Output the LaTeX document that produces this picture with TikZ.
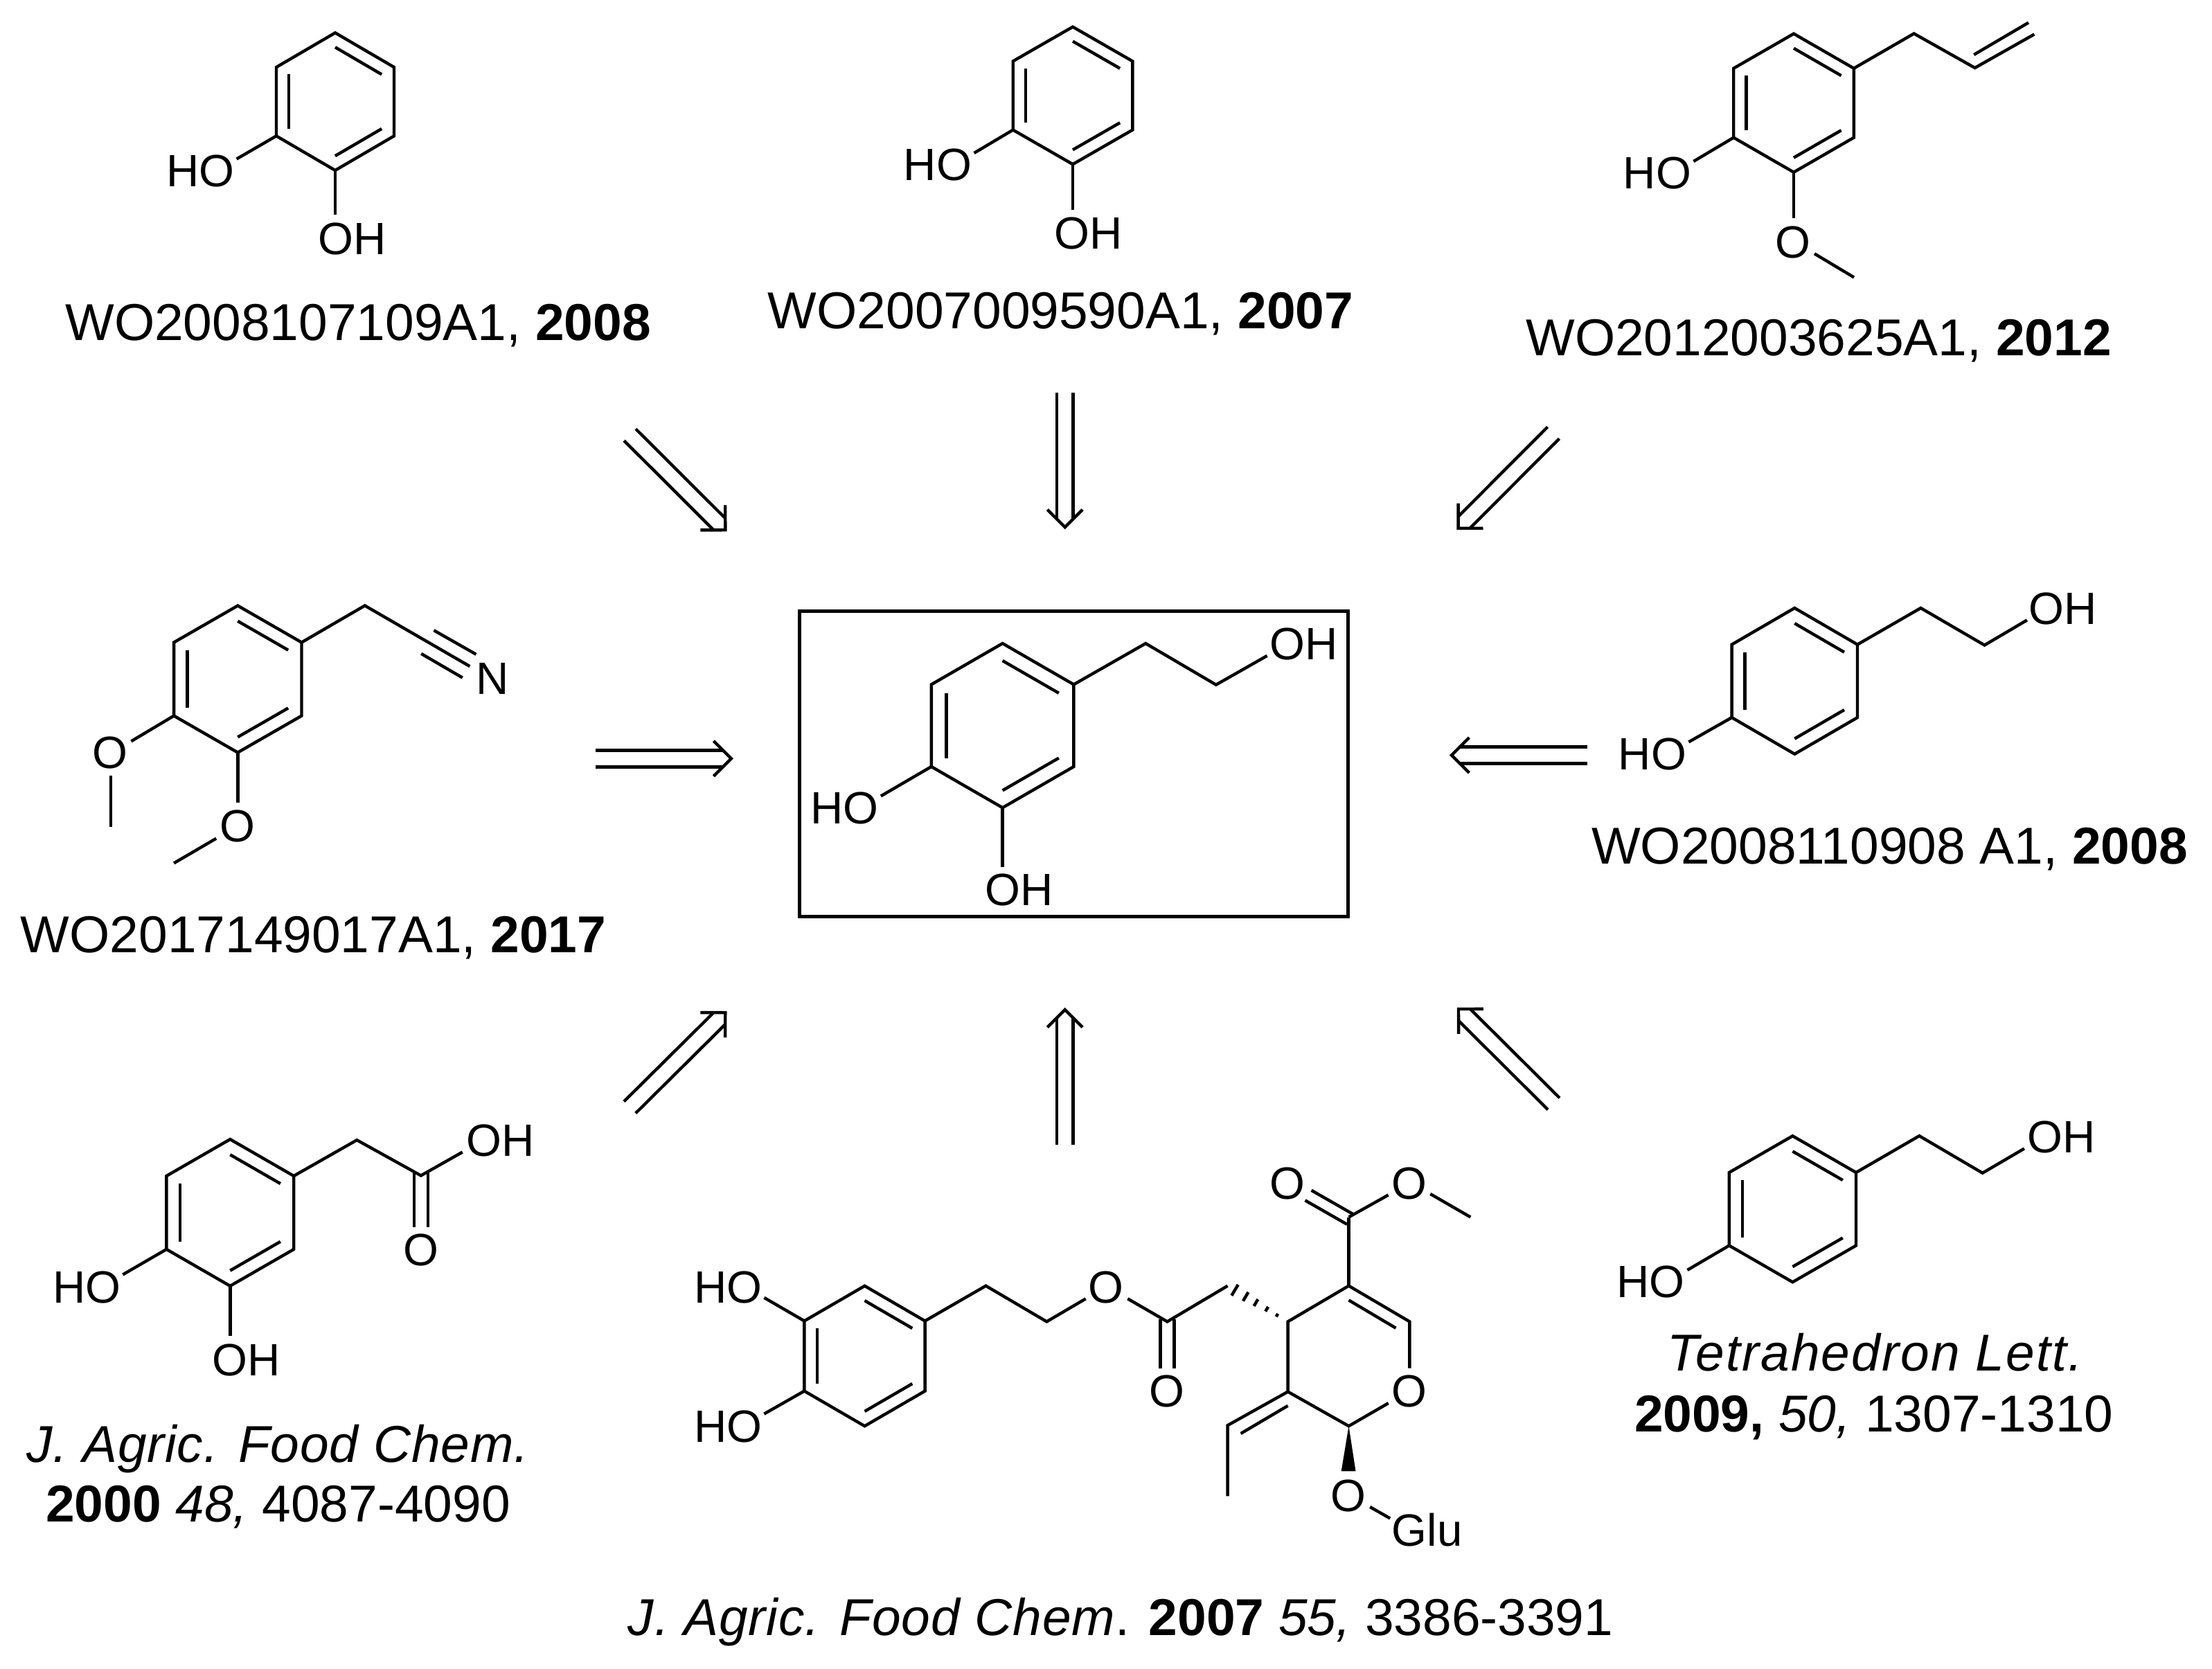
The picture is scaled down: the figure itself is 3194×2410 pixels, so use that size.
\documentclass[tikz,border=0pt]{standalone}
\usepackage{fontspec}
\setmainfont{Liberation Sans}
\usetikzlibrary{calc}
\usetikzlibrary{scopes}

\newcommand{\phring}[5]{
    \coordinate (#1c) at (#2,#3);
    \coordinate (#1t) at (#2,#3-#5);
    \coordinate (#1ur) at (#2+#4,#3-#5/2);
    \coordinate (#1lr) at (#2+#4,#3+#5/2);
    \coordinate (#1b) at (#2,#3+#5);
    \coordinate (#1ll) at (#2-#4,#3+#5/2);
    \coordinate (#1ul) at (#2-#4,#3-#5/2);
    \draw (#1t) -- (#1ur) -- (#1lr) -- (#1b) -- (#1ll) -- (#1ul) -- cycle;
    \draw ($(#1c)!.79!(#1t)$) -- ($(#1c)!.79!(#1ur)$);
    \draw ($(#1c)!.79!(#1lr)$) -- ($(#1c)!.79!(#1b)$);
    \draw ($(#1c)!.79!(#1ll)$) -- ($(#1c)!.79!(#1ul)$);
}
\newcommand{\dblarrow}[2]{
    \draw[shorten >=3.4pt] ($(#1)!3.4pt!90:(#2)$) -- ($(#2)!3.4pt!-90:(#1)$);
    \draw[shorten >=3.4pt] ($(#1)!3.4pt!-90:(#2)$) -- ($(#2)!3.4pt!90:(#1)$);
    \draw ($(#2)!10.2pt!45:(#1)$) -- (#2) -- ($(#2)!10.2pt!-45:(#1)$);
}
\newcommand{\jname}[2]{{\itshape\addfontfeature{LetterSpace=#1}#2}}
\tikzset{
    atom/.style={inner sep=0pt,font=\fontsize{18.6}{22}\selectfont},
    source/.style={inner sep=0pt,anchor=base,font=\fontsize{21.3}{25}\selectfont},
    target/.style={draw,line width=1.45pt},
}

\begin{document}
\begin{tikzpicture}[x=.01cm,y=-.01cm,line width=1.25pt]
    \useasboundingbox (0,0) rectangle (3194,2410);

    { [] % catechol, left
        \phring{ma}{484}{146.7}{85}{99.3}
        \node[atom] (maho) at (289.5,246.5) {HO};
        \node[atom] (maoh) at (508.5,345) {OH};
        \coordinate (mae) at (341.6,229.6);
        \coordinate (maf) at (484,309.7);
        \draw (mall) -- (mae);
        \draw (mab) -- (maf);
        \node[source] (mal) at (517,492) {WO2008107109A1, \textbf{2008}};
    }
    { [] % catechol, middle
        \phring{mb}{1549}{138}{86.3}{99.2}
        \node[atom] (mbho) at (1354,238) {HO};
        \node[atom] (mboh) at (1571.7,336.7) {OH};
        \coordinate (mbe) at (1406.6,221);
        \coordinate (mbf) at (1549,303);
        \draw (mbll) -- (mbe);
        \draw (mbb) -- (mbf);
        \node[source] (mbl) at (1531.5,474.5) {WO2007009590A1, \textbf{2007}};
    }
    { [] % eugenol
        \phring{mc}{2590}{148.7}{86.8}{100}
        \coordinate (mc1) at (2763.6,48.5);
        \coordinate (mc2) at (2851.6,98);
        \coordinate (mc3) at (2937.4,49.5);
        \coordinate (mc4) at (2850.2,79);
        \coordinate (mc5) at (2929,32.7);
        \draw (mcur) -- (mc1) -- (mc2) -- (mc3);
        \draw (mc4) -- (mc5);
        \node[atom] (mcho) at (2392.8,250) {HO};
        \node[atom] (mco) at (2589,350) {O};
        \coordinate (mce) at (2445.4,233);
        \coordinate (mcf) at (2590,315.3);
        \coordinate (mcg) at (2619.9,366.3);
        \coordinate (mch) at (2677,400.5);
        \draw (mcll) -- (mce);
        \draw (mcb) -- (mcf);
        \draw (mcg) -- (mch);
        \node[source] (mcl) at (2626,513.5) {WO2012003625A1, \textbf{2012}};
    }
    { [] % nitrile
        \phring{md}{343.3}{980.6}{92.2}{106}
        \coordinate (md1) at (526.8,874.5);
        \coordinate (md2) at (678.4,962.2);
        \coordinate (md3) at (626.5,910.2);
        \coordinate (md4) at (687.5,944.9);
        \coordinate (md5) at (608.2,943.9);
        \coordinate (md6) at (667.8,978.6);
        \draw (mdur) -- (md1) -- (md2);
        \draw (md3) -- (md4);
        \draw (md5) -- (md6);
        \node[atom] (mdn) at (711,980) {N};
        \node[atom] (mdoa) at (158.9,1087) {O};
        \node[atom] (mdob) at (343,1192.8) {O};
        \coordinate (mde) at (189.4,1070.4);
        \coordinate (mdf) at (160,1120.4);
        \coordinate (mdg) at (160,1193.9);
        \coordinate (mdh) at (343.3,1158.7);
        \coordinate (mdi) at (312.2,1210.7);
        \coordinate (mdj) at (251.1,1246.4);
        \draw (mdll) -- (mde);
        \draw (mdf) -- (mdg);
        \draw (mdb) -- (mdh);
        \draw (mdi) -- (mdj);
        \node[source] (mdl) at (452.5,1375) {WO2017149017A1, \textbf{2017}};
    }
    { [] % hydroxytyrosol in its box
        \node[target,minimum width=792pt*.2845,minimum height=440.3pt*.2845] (box) at (1550.7,1102.9) {};
        \phring{me}{1447.6}{1047.7}{102.8}{118.6}
        \coordinate (me1) at (1654.2,929.1);
        \coordinate (me2) at (1755.9,988.8);
        \coordinate (me3) at (1829.6,946.9);
        \draw (meur) -- (me1) -- (me2) -- (me3);
        \node[atom] (meoa) at (1882.9,930) {OH};
        \node[atom] (meho) at (1219.3,1166.6) {HO};
        \node[atom] (meob) at (1471.8,1285) {OH};
        \coordinate (mee) at (1271.9,1149.5);
        \coordinate (mef) at (1447.6,1251.5);
        \draw (mell) -- (mee);
        \draw (meb) -- (mef);
    }
    { [] % tyrosol, right
        \phring{mf}{2591.3}{983.4}{90.7}{105.4}
        \coordinate (mf1) at (2773.4,878);
        \coordinate (mf2) at (2865.5,931.6);
        \coordinate (mf3) at (2926.9,895.4);
        \draw (mfur) -- (mf1) -- (mf2) -- (mf3);
        \node[atom] (mfoh) at (2978.2,879) {OH};
        \node[atom] (mfho) at (2386,1088.8) {HO};
        \coordinate (mfe) at (2438.4,1071.4);
        \draw (mfll) -- (mfe);
        \node[source] (mfl) at (2728.5,1247.4) {WO2008110908 A1, \textbf{2008}};
    }
    { [] % acid
        \phring{mg}{332.3}{1751}{91.9}{105.9}
        \coordinate (mg1) at (515.3,1646.2);
        \coordinate (mg2) at (607.8,1697.5);
        \coordinate (mg3) at (667.7,1663.6);
        \coordinate (mg4) at (597.8,1692);
        \coordinate (mg5) at (597.8,1771.6);
        \coordinate (mg6) at (617.8,1692);
        \coordinate (mg7) at (617.8,1771.6);
        \draw (mgur) -- (mg1) -- (mg2) -- (mg3);
        \draw (mg4) -- (mg5);
        \draw (mg6) -- (mg7);
        \node[atom] (mgo) at (607.5,1805) {O};
        \node[atom] (mgoa) at (722.9,1647) {OH};
        \node[atom] (mgho) at (125.3,1858.5) {HO};
        \node[atom] (mgob) at (355.6,1964) {OH};
        \coordinate (mge) at (177.3,1840.5);
        \coordinate (mgf) at (332.3,1929.4);
        \draw (mgll) -- (mge);
        \draw (mgb) -- (mgf);
        \node[source] (mgl) at (400.9,2111) {\jname{1.2}{J. Agric. Food Chem.}};
        \node[source] (mgm) at (401.5,2197.8) {\textbf{2000} \textit{48,} 4087-4090};
    }
    { [] % oleuropein
        \phring{mh}{1248.5}{1958}{87.1}{101.2}
        \node[atom] (mhha) at (1051.6,1859) {HO};
        \node[atom] (mhhb) at (1051.6,2059.7) {HO};
        \coordinate (mha) at (1103.4,1873.8);
        \coordinate (mhd) at (1103.4,2041.6);
        \draw (mhul) -- (mha);
        \draw (mhll) -- (mhd);
        \coordinate (mh1) at (1423.5,1856.7);
        \coordinate (mh2) at (1511.4,1908.4);
        \coordinate (mh3) at (1567.7,1875.3);
        \coordinate (mh4) at (1628.3,1875.3);
        \coordinate (mh5) at (1685.5,1908.4);
        \coordinate (mh6) at (1772.6,1856.7);
        \coordinate (mh7) at (1859.6,1908.4);
        \coordinate (mh8) at (1947.5,1856.7);
        \coordinate (mh9) at (2035.4,1908.4);
        \coordinate (mh10) at (2035.4,1975.5);
        \coordinate (mh11) at (2004.7,2026.1);
        \coordinate (mh12) at (1947.5,2059.2);
        \coordinate (mh13) at (1859.6,2009.6);
        \coordinate (mh14) at (1772.6,2058.2);
        \coordinate (mh15) at (1772.6,2160.4);
        \coordinate (mh16) at (1947.5,1757.5);
        \draw (mhur) -- (mh1) -- (mh2) -- (mh3);
        \draw (mh4) -- (mh5) -- (mh6);
        \draw (mh10) -- (mh9) -- (mh8) -- (mh7) -- (mh13) -- (mh12) -- (mh11);
        \draw (mh13) -- (mh14) -- (mh15);
        \draw (mh8) -- (mh16);
        \node[atom] (mhoa) at (1596.8,1859) {O};
        \node[atom] (mhob) at (1685,2008.6) {O};
        \node[atom] (mhoc) at (2035,2009) {O};
        \node[atom] (mhod) at (1858.8,1708.5) {O};
        \node[atom] (mhoe) at (2034.6,1708.5) {O};
        \node[atom] (mhof) at (1946.7,2160.4) {O};
        \node[atom,anchor=base] (mhglu) at (2060.7,2232.7) {Glu};
        \coordinate (mhb) at (1675.5,1905);
        \coordinate (mhc) at (1675.5,1975.5);
        \coordinate (mhe) at (1695.4,1905);
        \coordinate (mhf) at (1695.4,1975.5);
        \draw (mhb) -- (mhc);
        \draw (mhe) -- (mhf);
        \coordinate (mhg) at (1947.5,1877.4);
        \coordinate (mhh) at (2015.5,1917.7);
        \draw (mhg) -- (mhh);
        \coordinate (mhi) at (1859.6,2029.8);
        \coordinate (mhj) at (1791.6,2070);
        \draw (mhi) -- (mhj);
        \coordinate (mhk) at (1893.6,1718.8);
        \coordinate (mhm) at (1955,1753.9);
        \coordinate (mhn) at (1884.5,1733.3);
        \coordinate (mhp) at (1945,1767.9);
        \draw (mhk) -- (mhm);
        \draw (mhn) -- (mhp);
        \coordinate (mhq) at (2004.7,1725.5);
        \coordinate (mhr) at (2065.3,1724);
        \coordinate (mhs) at (2123.3,1757.5);
        \draw (mh16) -- (mhq);
        \draw (mhr) -- (mhs);
        \coordinate (mht) at (1978.2,2176);
        \coordinate (mhu) at (2007.2,2192.5);
        \draw (mht) -- (mhu);
        \coordinate (mhv) at (1936.7,2124.3);
        \coordinate (mhw) at (1957.5,2124.3);
        \fill (mh12) -- (mhv) -- (mhw) -- cycle;
        \foreach \t/\w in {.18/.7pt,.35/1.1pt,.53/1.6pt,.7/2.1pt,.88/2.6pt}
            \draw ($(mh7)!\t!(mh6)!\w!90:(mh6)$) -- ($(mh7)!\t!(mh6)!\w!-90:(mh6)$);
        \node[source] (mhl) at (1618,2361.9) {\jname{1.2}{J. Agric. Food Chem}. \textbf{2007} \textit{55,} 3386-3391};
    }
    { [] % tyrosol, lower right
        \phring{mi}{2588.4}{1745.8}{91.6}{105.5}
        \coordinate (mi1) at (2771.3,1640.2);
        \coordinate (mi2) at (2862.6,1693.8);
        \coordinate (mi3) at (2922.9,1658.5);
        \draw (miur) -- (mi1) -- (mi2) -- (mi3);
        \node[atom] (mioh) at (2976.8,1641.8) {OH};
        \node[atom] (miho) at (2383.3,1851) {HO};
        \coordinate (mie) at (2436.5,1833.9);
        \draw (mill) -- (mie);
        \node[source] (mil) at (2707.3,1979) {\jname{2.8}{Tetrahedron Lett.}};
        \node[source] (mim) at (2705.7,2067) {\textbf{2009,} \textit{50,} 1307-1310};
    }

    \coordinate (aas) at (909.5,627.8);
    \coordinate (aat) at (1047.3,765.3);
    \coordinate (abs) at (1537.7,567.3);
    \coordinate (abt) at (1537.7,761.2);
    \coordinate (acs) at (2243,625);
    \coordinate (act) at (2105.6,762.8);
    \coordinate (ads) at (860,1095.4);
    \coordinate (adt) at (1055.8,1095.4);
    \coordinate (aes) at (2291.9,1090.5);
    \coordinate (aet) at (2096,1090.5);
    \coordinate (afs) at (909.4,1599);
    \coordinate (aft) at (1047.3,1462.2);
    \coordinate (ags) at (1537.7,1652.7);
    \coordinate (agt) at (1537.7,1458);
    \coordinate (ahs) at (2243.5,1593.8);
    \coordinate (aht) at (2106,1457);
    \foreach \a in {aa,ab,ac,ad,ae,af,ag,ah} {
        \dblarrow{\a s}{\a t}
    }
\end{tikzpicture}
\end{document}
